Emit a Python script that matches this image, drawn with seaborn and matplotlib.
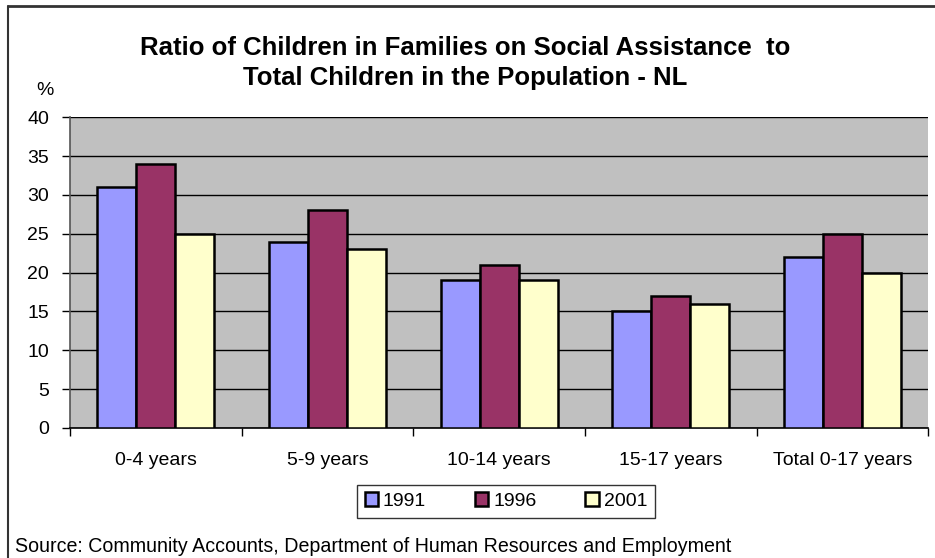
import pandas as pd
import numpy as np
import matplotlib.pyplot as plt
import seaborn as sns
from matplotlib.lines import Line2D

# data
age_groups = ["0-4 years", "5-9 years", "10-14 years", "15-17 years", "Total 0-17 years"]
years = ["1991", "1996", "2001"]
ratio_1991 = [31, 24, 19, 15, 22]
ratio_1996 = [34, 28, 21, 17, 25]
ratio_2001 = [25, 23, 19, 16, 20]
colors = ["#9999FF", "#993366", "#FFFFCC"]

df = pd.DataFrame({
    "group": age_groups * 3,
    "year": [y for y in years for _ in age_groups],
    "ratio": ratio_1991 + ratio_1996 + ratio_2001,
})

sns.set_style("white")
plt.rcParams["font.family"] = ["Liberation Sans", "DejaVu Sans"]
plt.rcParams["text.color"] = "black"
plt.rcParams["xtick.color"] = "black"
plt.rcParams["ytick.color"] = "black"

fig = plt.figure(figsize=(9.35, 5.58), dpi=100)
ax = fig.add_axes([0.0749, 0.233, 0.918, 0.557])
ax.set_facecolor("#C0C0C0")

sns.barplot(data=df, x="group", y="ratio", hue="year", palette=colors, saturation=1,
            width=0.68, edgecolor="black", linewidth=1.8, ax=ax, zorder=3)

ax.set_ylim(0, 40)
ax.set_yticks(range(0, 41, 5))
ax.set_xlim(-0.5, 4.5)
ax.yaxis.grid(True, color="black", linewidth=1, zorder=0)
ax.set_axisbelow(True)
ax.set_xlabel("")
ax.set_ylabel("")
for s in ["top", "right"]:
    ax.spines[s].set_visible(False)
ax.spines["left"].set_color("#555555")
ax.spines["bottom"].set_color("black")
ax.spines["left"].set_linewidth(1.2)
ax.spines["bottom"].set_linewidth(1.2)

ax.tick_params(axis="y", direction="out", length=6, width=1, labelsize=14, pad=9, left=True,
               labelcolor="black")
ax.tick_params(axis="x", which="major", length=0, labelsize=14, pad=17, labelcolor="black")
ax.set_xticks(np.arange(-0.5, 5, 1), minor=True)
ax.tick_params(axis="x", which="minor", direction="out", length=6, width=1, bottom=True)

ax.legend_.remove()
handles = [plt.Rectangle((0, 0), 1, 1, facecolor=c, edgecolor="black", linewidth=1.8) for c in colors]
fig.legend(handles, years, loc="center", bbox_to_anchor=(0.541, 0.102), ncol=3,
           frameon=True, fancybox=False, edgecolor="black", fontsize=14,
           handlelength=0.7, handleheight=0.7, handletextpad=0.25, columnspacing=2.5,
           borderpad=0.4, labelcolor="black")

fig.text(0.497, 0.887, "Ratio of Children in Families on Social Assistance  to\nTotal Children in the Population - NL",
         ha="center", va="center", fontsize=18.5, fontweight="bold", linespacing=1.35, color="black")
fig.text(0.048, 0.838, "%", ha="center", va="center", fontsize=14, color="black")
fig.text(0.016, 0.02, "Source: Community Accounts, Department of Human Resources and Employment",
         ha="left", va="center", fontsize=14.1, color="black")

# outer frame (top and left edges)
fig.add_artist(Line2D([0.009, 1.0], [0.989, 0.989], color="#333333", linewidth=2, transform=fig.transFigure))
fig.add_artist(Line2D([0.009, 0.009], [0.0, 0.989], color="#333333", linewidth=1.5, transform=fig.transFigure))

fig.savefig("out.png", dpi=100)
